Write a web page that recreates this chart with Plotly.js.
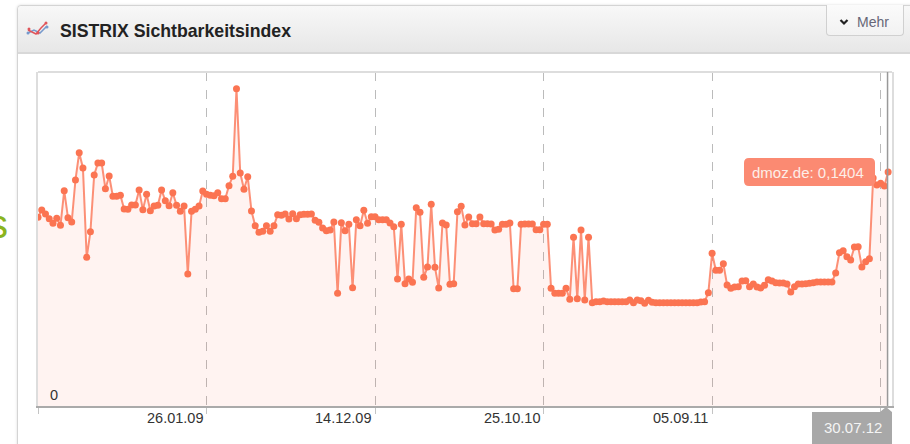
<!DOCTYPE html>
<html><head><meta charset="utf-8">
<script src="https://cdn.plot.ly/plotly-3.0.1.min.js"></script>
<style>
html,body{margin:0;padding:0;width:910px;height:444px;overflow:hidden;background:#fff}
#panel{position:absolute;left:17px;top:5px;width:900px;height:450px;border:1px solid #d4d4d4;border-radius:4px 4px 0 0;box-shadow:0 0 3px #ddd;box-sizing:border-box;background:#fff}
#head{height:46px;background:linear-gradient(#f8f8f8,#e7e7e7);border-bottom:2px solid #d8d8d8;border-radius:4px 4px 0 0}
#btn{position:absolute;left:826px;top:5px;width:78px;height:31px;box-sizing:border-box;border:1px solid #d0d0d0;border-top:none;border-radius:0 0 4px 4px;background:linear-gradient(#fbfbfb,#f2f2f2)}
#chart{position:absolute;left:0;top:0;width:910px;height:444px}
</style></head><body>
<div id="panel"><div id="head"></div></div>
<div id="btn"></div>
<div id="chart"></div>
<script>
var chartTitle = "SISTRIX Sichtbarkeitsindex";
var tooltipText = "dmoz.de: 0,1404";
var hoverDate = "30.07.12";
var hoverIndex = 227;
var tickVals = [0, 45, 90, 135, 180, 225];
var tickLabels = ["", "26.01.09", "14.12.09", "25.10.10", "05.09.11", ""];
var values = [
.1132,.1176,.1152,.1124,.1096,.1126,.1084,.1292,.1130,.1104,
.1356,.1520,.1428,.0892,.1046,.1386,.1458,.1458,.1304,.1380,
.1258,.1258,.1264,.1182,.1180,.1206,.1206,.1296,.1178,.1270,
.1172,.1200,.1204,.1296,.1232,.1202,.1280,.1204,.1168,.1200,
.0792,.1168,.1180,.1200,.1290,.1270,.1264,.1262,.1280,.1244,
.1244,.1322,.1378,.1904,.1398,.1300,.1376,.1170,.1082,.1042,
.1048,.1082,.1048,.1082,.1148,.1144,.1152,.1122,.1154,.1124,
.1148,.1150,.1150,.1152,.1114,.1102,.1068,.1052,.1056,.1104,
.0676,.1100,.1052,.1090,.0710,.1118,.1082,.1174,.1096,.1136,
.1136,.1118,.1118,.1118,.1098,.1076,.0762,.1090,.0734,.0762,
.0742,.1190,.1162,.0772,.0834,.1210,.0832,.0708,.1098,.1086,
.0730,.0734,.1166,.1198,.1086,.1134,.1094,.1094,.1134,.1094,
.1094,.1092,.1056,.1060,.1090,.1090,.1098,.0704,.0704,.1090,
.1092,.1092,.1092,.1058,.1058,.1090,.1090,.0706,.0676,.0676,
.0676,.0706,.0640,.1012,.0644,.1056,.0636,.1012,.0620,.0626,
.0626,.0630,.0626,.0626,.0626,.0626,.0626,.0626,.0636,.0620,
.0636,.0632,.0616,.0634,.0622,.0620,.0620,.0620,.0620,.0620,
.0620,.0620,.0620,.0620,.0620,.0620,.0620,.0624,.0626,.0680,
.0916,.0814,.0814,.0854,.0726,.0706,.0714,.0716,.0750,.0752,
.0716,.0732,.0714,.0708,.0724,.0758,.0750,.0740,.0738,.0738,
.0732,.0684,.0716,.0732,.0732,.0734,.0736,.0740,.0744,.0744,
.0744,.0744,.0744,.0798,.0920,.0932,.0896,.0876,.0954,.0956,
.0834,.0866,.0884,.1368,.1326,.1336,.1320,.1404];
var weeks = values.map(function(_, i){ return i; });

var L=38,R=892,T=72,B=406;
function px(x){return (x-L)/(R-L);}
function py(y){return (B-y)/(B-T);}
function P(x,y){return px(x)+","+py(y);}
function rrect(x0,y0,x1,y1,r){
  return "M"+P(x0+r,y0)+" L"+P(x1-r,y0)+" Q"+P(x1,y0)+" "+P(x1,y0+r)+" L"+P(x1,y1-r)+" Q"+P(x1,y1)+" "+P(x1-r,y1)+" L"+P(x0+r,y1)+" Q"+P(x0,y1)+" "+P(x0,y1-r)+" L"+P(x0,y0+r)+" Q"+P(x0,y0)+" "+P(x0+r,y0)+" Z";
}
function pshape(path,fill,lineC,lw){return {type:"path",xref:"paper",yref:"paper",path:path,fillcolor:fill||"rgba(0,0,0,0)",line:{color:lineC||"rgba(0,0,0,0)",width:lw||0},layer:"above"};}

var shapes=[
 {type:"line",xref:"paper",yref:"paper",x0:0,x1:1,y0:1,y1:1,line:{color:"#dddddd",width:2},layer:"above"},
 {type:"line",xref:"x",yref:"paper",x0:hoverIndex-0.15,x1:hoverIndex-0.15,y0:0,y1:1,line:{color:"#999999",width:1.5},layer:"above"},
 pshape(rrect(744,158,875,186,5),"#fb8a72"),
 pshape("M"+P(812,412)+" L"+P(880,412)+" L"+P(886,407)+" L"+P(892,412)+" L"+P(892,444)+" L"+P(812,444)+" Z","#a8a8a8"),
 pshape("M"+P(840.5,20)+" L"+P(844,23.5)+" L"+P(847.5,20),null,"#222222",2.2),
 pshape("M"+P(28,33)+" L"+P(34,30)+" L"+P(40,33)+" L"+P(47,26),null,"#7799cc",1.5),
 pshape("M"+P(28,30)+" L"+P(36,34)+" L"+P(41,28)+" L"+P(46,23),null,"#e0555a",1.5)
];
[[28,33,"#7799cc"],[38,33,"#e0555a"],[46,23,"#e0555a"],[47,27,"#7799cc"],[29,29,"#e0555a"]].forEach(function(d){
  shapes.push({type:"circle",xref:"paper",yref:"paper",x0:px(d[0]-1.5),x1:px(d[0]+1.5),y0:py(d[1]+1.5),y1:py(d[1]-1.5),fillcolor:d[2],line:{width:0},layer:"above"});
});

var F="Liberation Sans, Arial, sans-serif";
var labelFont={family:F,size:14.5,color:"#333333"};
var annotations=[];
tickLabels.forEach(function(t,i){
  if(t) annotations.push({xref:"x",yref:"paper",x:tickVals[i],y:py(418),xshift:-2,text:t,showarrow:false,xanchor:"right",yanchor:"middle",font:labelFont});
});
annotations.push({xref:"paper",yref:"paper",x:px(48),y:py(395),text:"0",showarrow:false,xanchor:"left",yanchor:"middle",font:labelFont});
annotations.push({xref:"paper",yref:"paper",x:px(808),y:py(172),text:tooltipText,showarrow:false,xanchor:"center",yanchor:"middle",font:{family:F,size:15,color:"#fdeee8"}});
annotations.push({xref:"paper",yref:"paper",x:px(853),y:py(427),text:hoverDate,showarrow:false,xanchor:"center",yanchor:"middle",font:{family:F,size:15,color:"#f4f4f4"}});
annotations.push({xref:"paper",yref:"paper",x:px(872.5),y:py(22),text:"Mehr",showarrow:false,xanchor:"center",yanchor:"middle",font:{family:F,size:14,color:"#666677"}});
annotations.push({xref:"paper",yref:"paper",x:px(10),y:py(224),text:"s",showarrow:false,xanchor:"right",yanchor:"middle",font:{family:F,size:40,color:"#8ab41e"}});

Plotly.newPlot("chart",[{
  type:"scatter",mode:"lines+markers",x:weeks,y:values,
  fill:"tozeroy",fillcolor:"rgba(252,90,60,0.07)",
  line:{color:"rgba(252,125,95,0.85)",width:2},
  marker:{color:"#fb7452",size:7},
  hoverinfo:"skip"
}],{
  width:910,height:444,showlegend:false,
  paper_bgcolor:"rgba(0,0,0,0)",plot_bgcolor:"rgba(255,255,255,0)",
  margin:{l:L,r:910-R,t:T,b:444-B,pad:0},
  title:{text:chartTitle,xref:"paper",x:px(60),xanchor:"left",yref:"container",y:1-31/444,yanchor:"middle",font:{family:F,size:17.7,weight:"bold",color:"#222222"}},
  xaxis:{range:[0,(R-L)/3.745],tickmode:"array",tickvals:tickVals,ticktext:tickLabels,showticklabels:false,ticks:"outside",ticklen:6,tickcolor:"#c4c4c4",tickwidth:1,
    showgrid:true,gridcolor:"#bbbbbb",griddash:"dash",gridwidth:1,zeroline:false,showline:true,linecolor:"#aaaaaa",linewidth:2},
  yaxis:{range:[0,0.2004],showticklabels:false,ticks:"",showgrid:false,zeroline:false,showline:true,mirror:true,linecolor:"#dddddd",linewidth:2},
  shapes:shapes,annotations:annotations
},{displayModeBar:false,staticPlot:true});
</script></body></html>
